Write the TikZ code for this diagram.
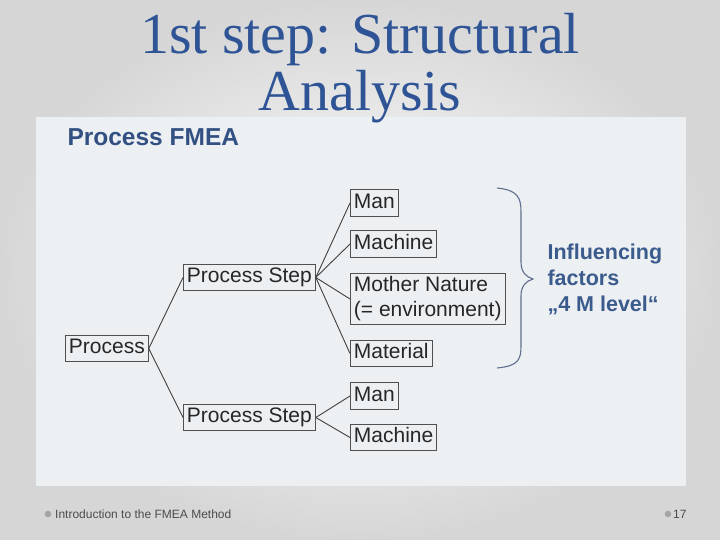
\documentclass[tikz,border=0pt]{standalone}
\usepackage{fontspec}
\setmainfont{Liberation Serif}
\newfontfamily\arial{Liberation Sans}
\definecolor{titleblue}{RGB}{47,84,150}
\definecolor{fmeablue}{RGB}{50,80,130}
\definecolor{factorblue}{RGB}{58,91,140}
\definecolor{photo}{RGB}{237,240,243}
\definecolor{boxline}{RGB}{80,80,80}
\definecolor{bracecol}{RGB}{95,110,140}

\begin{document}
\begin{tikzpicture}[x=1pt,y=-1pt,
        box/.style={draw=boxline, line width=0.9pt, anchor=west, inner xsep=3.5pt, inner ysep=3.5pt,
            text height=15pt, text depth=4.5pt, text=black!85, font=\arial\fontsize{21}{25}\selectfont},
        link/.style={draw=black!75, line width=0.9pt}]
        \useasboundingbox (0,0) rectangle (720,540);
        \shade[inner color=white, outer color=black!16] (0,0) rectangle (720,540);
        \fill[photo] (36,117) rectangle (686,486);

        % title
        \node[anchor=base, text=titleblue, font=\fontsize{58}{58}\selectfont] (title) at (360,54) {1st step: Structural};
        \node[anchor=base, text=titleblue, font=\fontsize{58}{58}\selectfont] (title2) at (360,111) {Analysis};
        \node[anchor=base west, text=fmeablue, font=\arial\bfseries\fontsize{24.5}{26}\selectfont] (head) at (64,146) {Process FMEA};

        % tree
        \node[box] (process) at (65,348.5) {Process};
        \node[box] (stepA) at (183,277.5) {Process Step};
        \node[box] (stepB) at (183,417.5) {Process Step};
        \node[box] (manA) at (350,203) {Man};
        \node[box] (machineA) at (350,244) {Machine};
        \node[box, align=left, text height=40pt] (nature) at (350,299) {Mother Nature\\(= environment)};
        \node[box] (material) at (350,353.5) {Material};
        \node[box] (manB) at (350,396) {Man};
        \node[box] (machineB) at (350,437.5) {Machine};

        \draw[link] (process.east) -- (stepA.west);
        \draw[link] (process.east) -- (stepB.west);
        \foreach \n in {manA, machineA, nature, material}
            \draw[link] (stepA.east) -- (\n.west);
        \foreach \n in {manB, machineB}
            \draw[link] (stepB.east) -- (\n.west);

        % brace
        \draw[bracecol, line width=1.1pt] (497,188) .. controls (518,190) and (521,198) .. (521,212)
            -- (521,262) .. controls (521,272) and (526,277) .. (533,279)
            .. controls (526,281) and (521,286) .. (521,296)
            -- (521,346) .. controls (521,360) and (518,366) .. (497,368);
        \node[anchor=west, align=left, text=factorblue, font=\arial\bfseries\fontsize{21.5}{26}\selectfont] (factors) at (544,279)
            {Influencing\\factors\\„4 M level“};

        % footer
        \fill[black!35] (48,514) circle (3.3pt);
        \node[anchor=west, text=black!70, font=\arial\fontsize{12}{13}\selectfont, inner sep=0pt] (foot) at (55,514.5)
            {Introduction to the FMEA Method};
        \fill[black!35] (668,514) circle (3.3pt);
        \node[anchor=west, text=black!70, font=\arial\fontsize{12}{13}\selectfont, inner sep=0pt] (page) at (673,514.5) {17};
\end{tikzpicture}
\end{document}
